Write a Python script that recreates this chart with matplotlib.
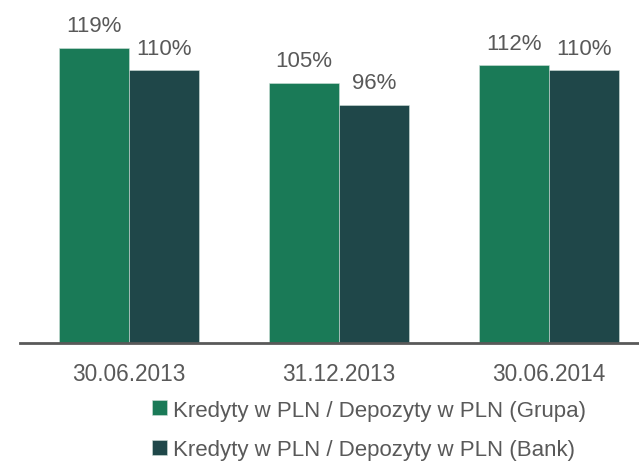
import numpy as np
import matplotlib
matplotlib.use('Agg')
import matplotlib.pyplot as plt

categories = ['30.06.2013', '31.12.2013', '30.06.2014']
grupa = [119, 105, 112]
bank = [110, 96, 110]
series_names = ['Kredyty w PLN / Depozyty w PLN (Grupa)',
                'Kredyty w PLN / Depozyty w PLN (Bank)']

c_grupa = '#1a7a57'
c_bank = '#1f4749'
txt = '#595959'

plt.rcParams['font.family'] = ['Liberation Sans', 'DejaVu Sans']

fig = plt.figure(figsize=(6.39, 4.64), dpi=100)
ax = fig.add_axes([20/639, 120/464, 619/639, 344/464])

x = np.arange(len(categories))
w = 1/3
b1 = ax.bar(x - w/2, grupa, w, color=c_grupa, edgecolor='#cfe0da', linewidth=0.4, label=series_names[0])
b2 = ax.bar(x + w/2, bank, w, color=c_bank, edgecolor='#cfe0da', linewidth=0.4, label=series_names[1])

for bars, vals in ((b1, grupa), (b2, bank)):
    for r, v in zip(bars, vals):
        ax.annotate('%d%%' % v, (r.get_x() + r.get_width()/2, v), xytext=(0, 12),
                    textcoords='offset points', ha='center', va='baseline',
                    fontsize=16, color=txt)

ax.set_xlim(-0.519, 2.43)
ax.set_ylim(0, 138.7)
ax.set_yticks([])
ax.set_xticks(x)
ax.set_xticklabels(categories, fontsize=16.3, color=txt)
ax.tick_params(axis='x', length=0, pad=14)
for s in ['top', 'right', 'left']:
    ax.spines[s].set_visible(False)
ax.spines['bottom'].set_color(txt)
ax.spines['bottom'].set_linewidth(2)

fig.legend(loc='center left', bbox_to_anchor=(152/639, 1 - 431/464), frameon=False,
           fontsize=16, handlelength=0.68, handleheight=0.68, handletextpad=0.25,
           borderpad=0, borderaxespad=0, labelspacing=0.85, labelcolor=txt)

fig.savefig('out.png', dpi=100)
